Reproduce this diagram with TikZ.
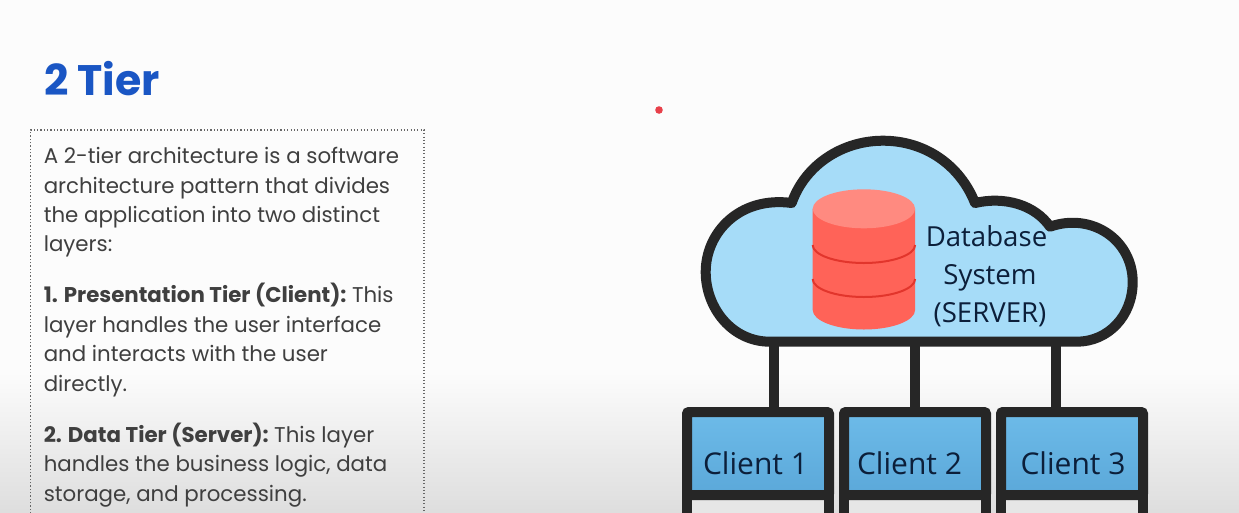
\documentclass[tikz,border=0pt]{standalone}
\usepackage{fontspec}
\setmainfont{Poppins}
\newfontfamily\labelfont{Open Sans}
\usetikzlibrary{shadings}
\definecolor{ink}{HTML}{262626}
\definecolor{bodytext}{HTML}{3F3F3F}
\definecolor{titleblue}{HTML}{1A56C4}
\definecolor{cloudblue}{HTML}{A6DCF8}
\definecolor{labelink}{HTML}{0C1F3A}
\definecolor{dbbody}{HTML}{FF6358}
\definecolor{dbtop}{HTML}{FF8A80}
\definecolor{dbline}{HTML}{E2352C}
\definecolor{clientA}{HTML}{6DBBE9}
\definecolor{clientB}{HTML}{5BA8D9}
\definecolor{legfill}{HTML}{E6E6E6}
\definecolor{dotred}{HTML}{E8404A}
\tikzset{
  x=0.75pt,y=-0.75pt,
  bodynode/.style={anchor=north west,align=left,inner sep=0pt,text=bodytext,font=\fontsize{16pt}{22.1pt}\selectfont},
  clientbox/.style={draw=ink,line width=7.5pt,rounded corners=1.5pt,outer sep=0pt,minimum width=106.5pt,minimum height=62.25pt,inner sep=0pt,
    top color=clientA,bottom color=clientB},
  clienttext/.style={anchor=base,inner sep=0pt,text=labelink,font=\labelfont\fontsize{22.5pt}{26pt}\selectfont},
  dbtext/.style={anchor=base,inner sep=0pt,text=labelink,font=\labelfont\fontsize{20.7pt}{24pt}\selectfont},
  wire/.style={draw=ink,line width=7.5pt},
  leg/.style={draw=ink,line width=7.5pt,fill=legfill},
}
\begin{document}
\begin{tikzpicture}
\useasboundingbox (0,0) rectangle (1239,512);
\clip (0,0) rectangle (1239,512);
% background
\fill[white!99!black] (0,0) rectangle (1239,370);
\shade[top color=white!99!black,bottom color=white!87!black] (0,370) rectangle (1239,512);
% title
\node[anchor=base west,inner sep=0pt,text=titleblue,font=\fontsize{32pt}{36pt}\selectfont\bfseries] (title) at (44,95) {2 Tier};
% text box
\draw[draw=black!60,line width=0.9pt,dash pattern=on 0.9pt off 1.6pt] (30.5,530) -- (30.5,130) -- (424,130) -- (424,530);
\node[bodynode] (p1) at (43.5,147) {A 2-tier architecture is a software\\architecture pattern that divides\\the application into two distinct\\layers:};
\node[bodynode] (p2) at (43.5,283) {\textbf{1. Presentation Tier (Client):}\hspace{-1.6pt} This\\layer handles the user interface\\and interacts with the user\\directly.};
\node[bodynode] (p3) at (43.5,422.5) {\textbf{2. Data Tier (Server):}\hspace{-1.6pt} This layer\\handles the business logic, data\\storage, and processing.};
% red dot
\fill[dotred] (659,110) circle (3.8);
% server attachment points
\coordinate (s1) at (774,341.5);
\coordinate (s2) at (915,341.5);
\coordinate (s3) at (1056,341.5);
% clients
\foreach \cx in {758,915,1072}{
  \draw[leg] (\cx-71,490) -- (\cx-71,540) -- (\cx+71,540) -- (\cx+71,490) -- cycle;
}
\node[clientbox] (client1) at (758,453.5) {};
\node[clientbox] (client2) at (915,453.5) {};
\node[clientbox] (client3) at (1072,453.5) {};
\draw[wire] (s1) -- (s1 |- client1.north);
\draw[wire] (s2) -- (s2 |- client2.north);
\draw[wire] (s3) -- (s3 |- client3.north);
\node[clienttext] (t1) at (755.5,474) {Client 1};
\node[clienttext] (t2) at (909.5,474) {Client 2};
\node[clienttext] (t3) at (1073,474) {Client 3};
% cloud
\draw[draw=ink,line width=7.5pt,fill=cloudblue,line join=round]
  (770,341.7) .. controls (732,341.7) and (705.7,308) .. (705.7,272)
  .. controls (705.7,232) and (740,196) .. (791.7,203)
  .. controls (805,165) and (842,140.7) .. (883,140.7)
  .. controls (925,140.7) and (960,165) .. (975,203)
  .. controls (1005,196) and (1035,205) .. (1050,226.7)
  .. controls (1092,212) and (1132.7,240) .. (1132.7,282)
  .. controls (1132.7,316) and (1108,341.7) .. (1076.7,341.7)
  -- cycle;
% database
\fill[dbbody] (812.7,208.8) -- (812.7,310) arc[start angle=180,end angle=360,x radius=51.2,y radius=-19.5] -- (915.1,208.8) -- cycle;
\fill[dbtop] (863.9,208.8) ellipse [x radius=51.2,y radius=19.5];
\draw[dbline,line width=1.5pt] (812.7,245) arc[start angle=180,end angle=360,x radius=51.2,y radius=-18];
\draw[dbline,line width=1.5pt] (812.7,279) arc[start angle=180,end angle=360,x radius=51.2,y radius=-18];
\node[dbtext] (d1) at (986.5,246) {Database};
\node[dbtext] (d2) at (990,284) {System};
\node[dbtext] (d3) at (990,322) {(SERVER)};
\end{tikzpicture}
\end{document}
